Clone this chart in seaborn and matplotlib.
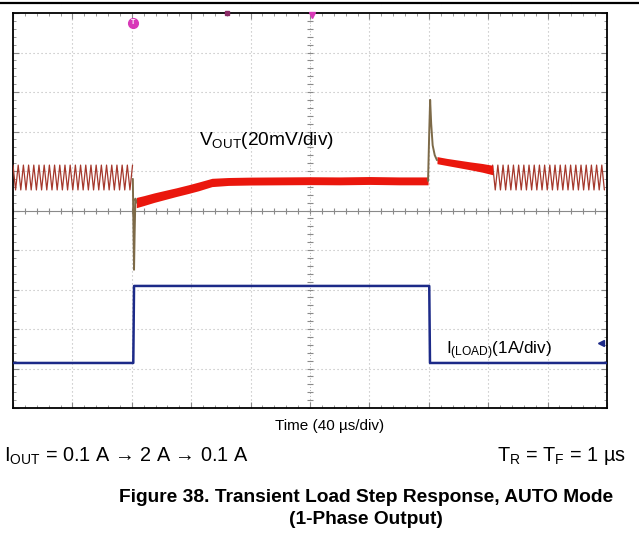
import numpy as np
import pandas as pd
import matplotlib
matplotlib.use("Agg")
import matplotlib.pyplot as plt
import seaborn as sns
from matplotlib.lines import Line2D

# Scope settings (40 us/div, 10 x 10 divisions)
US_PER_DIV = 40
V_MV_PER_DIV = 20
I_A_PER_DIV = 1
I_ZERO_DIV = -3.96          # channel 2 ground position, in divisions

# Step instants (us)
T_RISE = -119.0
T_FALL = 80.8

# Output ripple outside the step (light-load PFM ripple)
RIPPLE_LOW_MV = 10.4
RIPPLE_HIGH_MV = 23.0
RIPPLE_PERIOD_US = 3.5
RIPPLE_LEFT = (-200.0, -119.3)
RIPPLE_RIGHT = (123.0, 200.0)

# Heavy-load noisy band: centre and half-width (mV)
band_t = [-117.0, -112.0, -105.0, -97.0, -90.0, -82.0, -75.0, -66.0, -55.0, -40.0,
          -20.0, 0.0, 20.0, 40.0, 60.0, 79.5]
band_mid = [4.0, 5.0, 6.5, 8.0, 9.3, 10.8, 12.2, 14.2, 14.7, 14.9,
            15.0, 15.1, 15.0, 15.2, 15.0, 15.0]
band_half = [2.6, 2.5, 2.4, 2.3, 2.2, 2.2, 2.2, 2.1, 2.0, 2.0,
             2.0, 2.0, 2.0, 2.0, 2.0, 2.0]

# Recovery band after the load release
rec_t = [85.5, 92.0, 100.0, 108.0, 116.0, 123.0]
rec_mid = [25.5, 24.6, 23.6, 22.6, 21.6, 20.5]
rec_half = [1.8, 1.8, 1.9, 2.0, 2.2, 2.4]

# Undershoot at the load step (mV)
under_t = [-119.3, -118.9, -118.5, -118.1, -117.6, -117.0]
under_v = [16.0, -8.0, -30.0, -12.0, 6.0, 4.0]

# Overshoot at the load release (mV)
over_t = [79.5, 80.3, 80.9, 81.6, 82.6, 84.0, 85.5]
over_v = [15.0, 40.0, 56.0, 44.0, 33.0, 28.0, 25.5]

# Load current (A)
iload_t = [-200.0, T_RISE, T_RISE + 0.5, T_FALL - 0.5, T_FALL, 200.0]
iload_a = [0.1, 0.1, 2.05, 2.05, 0.1, 0.1]

RED = "#ea170d"
RIPPLE_COL = "#a5382c"
SPIKE_COL = "#7d6a48"
BLUE = "#1c2a88"
GRID_COL = "#b8b8b8"


def ripple(t0, t1):
    t = np.arange(t0, t1, RIPPLE_PERIOD_US / 2)
    v = np.where(np.arange(len(t)) % 2 == 0, RIPPLE_HIGH_MV, RIPPLE_LOW_MV)
    return t, v


def mv_to_div(v):
    return np.asarray(v, dtype=float) / V_MV_PER_DIV


sns.set_theme(style="white")
plt.rcParams['font.family'] = ['Liberation Sans', 'DejaVu Sans']
plt.rcParams['mathtext.default'] = 'regular'
plt.rcParams['text.color'] = 'black'

fig = plt.figure(figsize=(6.39, 5.42), dpi=100)
ax = fig.add_axes([13 / 639, 1 - 408 / 542, 594 / 639, 395 / 542])
ax.set_xlim(-5 * US_PER_DIV, 5 * US_PER_DIV)
ax.set_ylim(-5, 5)

# graticule
for k in range(-4, 5):
    if k == 0:
        continue
    ax.axvline(k * US_PER_DIV, color=GRID_COL, lw=0.8, ls=(0, (1, 2.6)), zorder=0)
    ax.axhline(k, color=GRID_COL, lw=0.8, ls=(0, (1, 2.6)), zorder=0)
ax.axhline(0, color="#8a8a8a", lw=0.8, zorder=0)
ax.axvline(0, color="#b0b0b0", lw=0.7, ls=(0, (1, 2)), zorder=0)
xt = np.arange(-200, 201, 8)
ax.plot(xt, np.zeros_like(xt), ls="none", marker="|", ms=4, mew=0.8, color="#8a8a8a", zorder=0)
yt = np.arange(-5, 5.01, 0.2)
ax.plot(np.zeros_like(yt), yt, ls="none", marker="_", ms=4, mew=0.8, color="#8a8a8a", zorder=0)

ax.set_xticks(np.arange(-200, 201, 40))
ax.set_xticks(np.arange(-200, 201, 8), minor=True)
ax.set_yticks(np.arange(-5, 6, 1))
ax.set_yticks(np.arange(-5, 5.01, 0.2), minor=True)
ax.tick_params(which="both", direction="in", bottom=True, top=True, left=True, right=True,
               labelbottom=False, labelleft=False, color="#888888")
ax.tick_params(which="major", length=4, width=0.8)
ax.tick_params(which="minor", length=2.5, width=0.6)
for s in ax.spines.values():
    s.set_color("black")
    s.set_linewidth(1.3)

# VOUT ripple
for lo, hi in (RIPPLE_LEFT, RIPPLE_RIGHT):
    rt, rv = ripple(lo, hi)
    sns.lineplot(x=rt, y=mv_to_div(rv), ax=ax, color=RIPPLE_COL, lw=0.9,
                 estimator=None, sort=False, zorder=3)

# VOUT noisy bands
ax.fill_between(band_t, mv_to_div(np.array(band_mid) - band_half),
                mv_to_div(np.array(band_mid) + band_half), color=RED, lw=0, zorder=3)
ax.fill_between(rec_t, mv_to_div(np.array(rec_mid) - rec_half),
                mv_to_div(np.array(rec_mid) + rec_half), color=RED, lw=0, zorder=3)

# transients
sns.lineplot(x=under_t, y=mv_to_div(under_v), ax=ax, color=SPIKE_COL, lw=1.4,
             estimator=None, sort=False, zorder=4)
sns.lineplot(x=over_t, y=mv_to_div(over_v), ax=ax, color=SPIKE_COL, lw=1.4,
             estimator=None, sort=False, zorder=4)

# load current
df_i = pd.DataFrame({"t": iload_t, "pos": np.array(iload_a) / I_A_PER_DIV + I_ZERO_DIV})
sns.lineplot(data=df_i, x="t", y="pos", ax=ax, color=BLUE, lw=1.8,
             estimator=None, sort=False, zorder=3)
ax.set_xlabel("")
ax.set_ylabel("")

# scope markers
ax.plot([T_RISE], [4.75], marker="o", ms=7, color="#d838b8", clip_on=False, zorder=5)
ax.text(T_RISE, 4.75, "T", color="white", fontsize=5, ha="center", va="center",
        fontweight="bold", zorder=6)
ax.plot([1.5], [4.95], marker="v", ms=5, color="#d838b8", clip_on=False, zorder=5)
ax.plot([-56], [5.0], marker="s", ms=3, color="#8a2a66", clip_on=False, zorder=5)
ax.plot([196], [-3.35], marker="<", ms=4, color=BLUE, clip_on=False, zorder=5)

# channel labels
fig.text(199 / 639, 1 - 141 / 542, r"V$_{OUT}$(20mV/div)", fontsize=13.8, va="center")
fig.text(446 / 639, 1 - 351 / 542, r"I$_{(LOAD)}$(1A/div)", fontsize=12.3, va="center")

# captions
fig.add_artist(Line2D([0, 1], [1 - 2.5 / 542] * 2, color="black", lw=1.6))
fig.text(330 / 639, 1 - 426 / 542, "Time (40 µs/div)", fontsize=11, ha="center", va="center")
fig.text(4 / 639, 1 - 456 / 542, r"I$_{OUT}$ = 0.1 A → 2 A → 0.1 A", fontsize=14.3,
         va="center")
fig.text(626 / 639, 1 - 456 / 542, r"T$_{R}$ = T$_{F}$ = 1 µs", fontsize=14.3,
         ha="right", va="center")
fig.text(366 / 639, 1 - 497 / 542, "Figure 38. Transient Load Step Response, AUTO Mode",
         fontsize=13.8, fontweight="bold", ha="center", va="center")
fig.text(366 / 639, 1 - 520 / 542, "(1-Phase Output)",
         fontsize=13.8, fontweight="bold", ha="center", va="center")

fig.savefig("out.png", dpi=100)
